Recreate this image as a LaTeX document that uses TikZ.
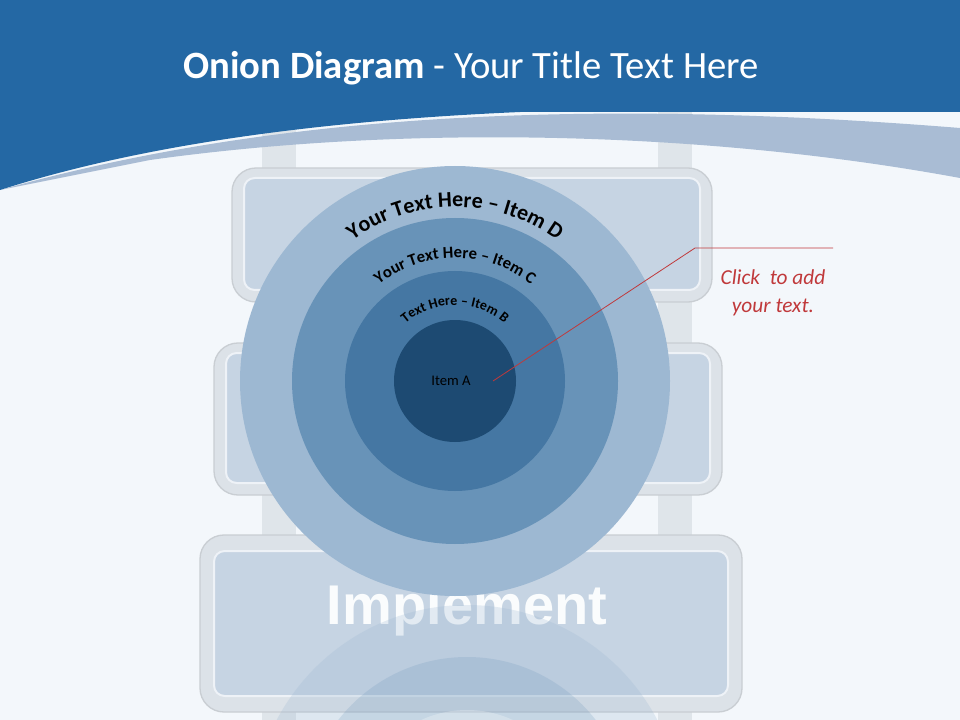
\documentclass[tikz,border=0pt]{standalone}
\usepackage{fontspec}
\setmainfont{Carlito}
\newfontfamily\impfont{Liberation Sans}
\usetikzlibrary{decorations.text}
\definecolor{bg}{HTML}{F3F7FB}
\definecolor{hdr}{HTML}{2468A4}
\definecolor{band}{HTML}{A9BCD4}
\definecolor{frm}{HTML}{DCE2E8}
\definecolor{inr}{HTML}{C6D4E3}
\definecolor{cD}{HTML}{9DB8D2}
\definecolor{cC}{HTML}{6893B8}
\definecolor{cB}{HTML}{4577A3}
\definecolor{cA}{HTML}{1D4A72}
\definecolor{red1}{HTML}{C0393B}
\tikzset{
  post/.style={fill=frm!90!white,draw=none},
  boxframe/.style={fill=frm,draw=frm!80!gray,rounded corners=18pt,line width=1pt},
  boxinner/.style={fill=inr,draw=white!70!inr,rounded corners=8pt,line width=1.5pt},
  ring/.style={circle,draw=none,inner sep=0pt},
  arctext/.style={decorate,decoration={text along path,text align=center,text={#1}}},
  callout/.style={draw=red1,line width=0.6pt}
}
\begin{document}
\begin{tikzpicture}[x=0.75pt,y=0.75pt]
\useasboundingbox (0,0) rectangle (960,-720);
\fill[bg] (0,0) rectangle (960,-720);
% posts
\fill[post] (262,-110) rectangle (296,-720);
\fill[post] (658,-110) rectangle (692,-720);
% header
\fill[band] (0,-190) .. controls (250,-120) and (550,-95) .. (960,-128) -- (960,-178) .. controls (700,-130) and (400,-125) .. (150,-160) -- cycle;
\fill[hdr] (0,0) rectangle (960,-112);
\fill[hdr] (0,-100) -- (960,-100) -- (960,-112) .. controls (600,-100) and (250,-110) .. (0,-190) -- cycle;
\node[text=white,font=\fontsize{29}{34}\selectfont] (title) at (471,-68) {\textbf{Onion Diagram} - Your Title Text Here};
% boxes
\draw[boxframe] (232,-168) rectangle (712,-302);
\draw[boxinner] (244,-178) rectangle (700,-290);
\draw[boxframe] (214,-343) rectangle (722,-495);
\draw[boxinner] (226,-353) rectangle (710,-483);
\draw[boxframe] (200,-535) rectangle (742,-712);
\draw[boxinner] (214,-551) rectangle (728,-696);
\node[text=white!92!inr,font=\impfont\bfseries\fontsize{42}{44}\selectfont] (impl) at (467,-610) {Implement};
% faint reflection
\begin{scope}
\clip (214,-551) rectangle (728,-720);
\fill[cD,opacity=0.25] (467,-820) circle (215);
\fill[cC,opacity=0.2] (467,-820) circle (163);
\fill[white,opacity=0.25] (467,-820) circle (110);
\end{scope}
% onion
\node[ring,fill=cD,minimum size=430*0.75pt] (D) at (455,-381) {};
\node[ring,fill=cC,minimum size=326*0.75pt] (C) at (455,-381) {};
\node[ring,fill=cB,minimum size=220*0.75pt] (B) at (455,-381) {};
\node[ring,fill=cA,minimum size=122*0.75pt] (A) at (455,-381) {};
\node[font=\fontsize{11}{12}\selectfont,text=black] (lblA) at (451,-381) {Item A};
\path[arctext={|\fontsize{16.5}{18}\selectfont\bfseries|Your Text Here – Item D}] (455,-381) ++(152:174) arc (152:28:174);
\path[arctext={|\fontsize{12.5}{14}\selectfont\bfseries|Your Text Here – Item C}] (455,-381) ++(152:123) arc (152:28:123);
\path[arctext={|\fontsize{10.5}{12}\selectfont\bfseries|Text Here – Item B}] (455,-381) ++(150:76) arc (150:30:76);
% callout
\coordinate (cp) at (493,-381);
\coordinate (ck) at (695,-248);
\coordinate (ce) at (833,-248);
\draw[callout] (cp) -- (ck) -- (ce);
\node[text=red1,font=\itshape\fontsize{16}{21}\selectfont,align=center] (click) at (773,-293) {Click~ to add\\ your text.};
\end{tikzpicture}
\end{document}
